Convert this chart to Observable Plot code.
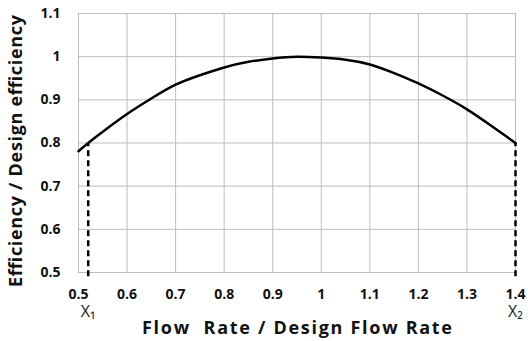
<!DOCTYPE html>
<html><head><meta charset="utf-8">
<script src="https://cdn.jsdelivr.net/npm/d3@7"></script>
<script src="https://cdn.jsdelivr.net/npm/@observablehq/plot@0.6"></script>
<style>body{margin:0;background:#fff}</style>
</head><body><div id="chart"></div>
<script>
const flowRatio = [0.5,0.52,0.55,0.6,0.65,0.7,0.75,0.8,0.85,0.9,0.95,1.0,1.05,1.1,1.15,1.2,1.25,1.3,1.35,1.4];
const effRatio  = [0.781,0.80,0.826,0.867,0.903,0.935,0.957,0.975,0.988,0.996,1.0,0.998,0.993,0.982,0.962,0.938,0.91,0.878,0.84,0.80];
const xTicks = [0.5,0.6,0.7,0.8,0.9,1.0,1.1,1.2,1.3,1.4];
const yTicks = [0.5,0.6,0.7,0.8,0.9,1.0,1.1];
const limitX = [0.52, 1.4];
const limitY = [0.80, 0.80];
const limitNames = ["X\u2081","X\u2082"];
const xTitle = "Flow\u00a0 Rate / Design Flow Rate";
const yTitle = "Efficiency / Design efficiency";

const curve = flowRatio.map((x,i)=>({x, y: effRatio[i]}));
const limits = limitX.map((x,i)=>({x, y: limitY[i], name: limitNames[i]}));
const font = "'Open Sans', 'Noto Sans', sans-serif";

const chart = Plot.plot({
  width: 528, height: 341,
  marginLeft: 78, marginRight: 13, marginTop: 13, marginBottom: 69,
  style: {fontFamily: font, color: "#111", background: "#fff"},
  x: {domain: [0.5, 1.4]},
  y: {domain: [0.5, 1.1]},
  marks: [
    Plot.gridX(xTicks, {stroke: "#bdbdbd", strokeOpacity: 1}),
    Plot.gridY(yTicks, {stroke: "#bdbdbd", strokeOpacity: 1}),
    Plot.frame({stroke: "#bdbdbd"}),
    Plot.axisX(xTicks, {tickSize: 0, tickPadding: 17, fontSize: 14, fontWeight: "bold", label: null, tickFormat: d3.format("")}),
    Plot.axisY(yTicks, {tickSize: 0, tickPadding: 18, fontSize: 14, fontWeight: "bold", label: null, tickFormat: d3.format("")}),
    Plot.ruleX(limits, {x: "x", y1: 0.49, y2: "y", stroke: "#000", strokeWidth: 2.5, strokeDasharray: "6,4", clip: false}),
    Plot.line(curve, {x: "x", y: "y", stroke: "#000", strokeWidth: 2.5, curve: "natural"}),
    Plot.text(limits, {x: "x", y: 0.5, text: "name", dy: 39, fontSize: 16, fill: "#222", fontFamily: font}),
    Plot.text([xTitle], {frameAnchor: "bottom", dy: 56, fontSize: 18, fontWeight: "bold", fill: "#111", textAnchor: "middle", lineAnchor: "middle"}),
    Plot.text([yTitle], {frameAnchor: "left", dx: -62, dy: 8, rotate: -90, fontSize: 18, fontWeight: "bold", fill: "#111", textAnchor: "middle", lineAnchor: "middle"})
  ]
});
document.getElementById("chart").appendChild(chart);
d3.select(chart).selectAll("text").each(function() {
  const t = this.textContent;
  if (t === xTitle) d3.select(this).attr("textLength", 310).attr("lengthAdjust", "spacing");
  if (t === yTitle) d3.select(this).attr("textLength", 272).attr("lengthAdjust", "spacing");
});
</script></body></html>
